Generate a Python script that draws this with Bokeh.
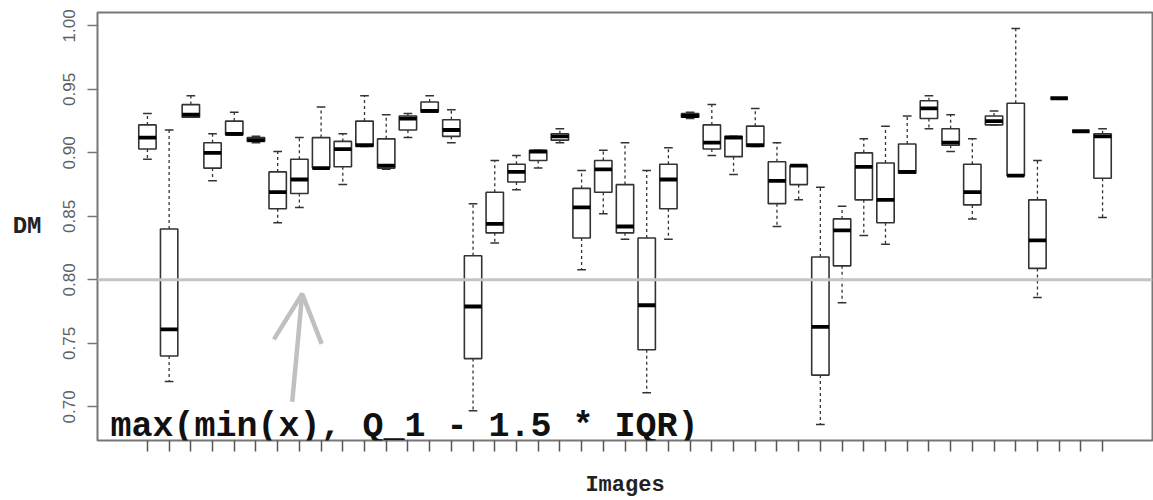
from bokeh.plotting import figure
from bokeh.models import (ColumnDataSource, Range1d, FixedTicker, Span, Arrow,
                          OpenHead, Label, NumeralTickFormatter)
from bokeh.transform import dodge
from bokeh.embed import file_html
from bokeh.resources import INLINE

# ---- data ----
images = list(range(1, 46))
lower_whisker = [0.895, 0.720, 0.928, 0.878, 0.914, 0.908, 0.845, 0.857, 0.888, 0.875,
                 0.905, 0.887, 0.912, 0.932, 0.908, 0.697, 0.829, 0.871, 0.888, 0.908,
                 0.808, 0.852, 0.832, 0.711, 0.832, 0.927, 0.898, 0.883, 0.905, 0.842,
                 0.863, 0.686, 0.782, 0.835, 0.828, 0.884, 0.919, 0.901, 0.848, 0.922,
                 0.882, 0.786, 0.943, 0.917, 0.849]
q1 = [0.903, 0.740, 0.928, 0.888, 0.914, 0.909, 0.856, 0.868, 0.888, 0.889,
      0.905, 0.888, 0.918, 0.932, 0.913, 0.738, 0.837, 0.877, 0.894, 0.910,
      0.833, 0.869, 0.837, 0.745, 0.856, 0.928, 0.903, 0.897, 0.905, 0.860,
      0.875, 0.725, 0.811, 0.863, 0.845, 0.884, 0.927, 0.906, 0.859, 0.922,
      0.882, 0.809, 0.943, 0.917, 0.880]
median = [0.912, 0.761, 0.930, 0.900, 0.915, 0.910, 0.869, 0.879, 0.888, 0.903,
          0.906, 0.890, 0.927, 0.933, 0.918, 0.779, 0.844, 0.885, 0.901, 0.913,
          0.857, 0.887, 0.842, 0.780, 0.879, 0.929, 0.908, 0.912, 0.906, 0.878,
          0.890, 0.763, 0.839, 0.889, 0.863, 0.885, 0.935, 0.908, 0.869, 0.925,
          0.882, 0.831, 0.943, 0.917, 0.913]
q3 = [0.922, 0.840, 0.938, 0.908, 0.925, 0.912, 0.885, 0.895, 0.912, 0.909,
      0.925, 0.911, 0.929, 0.940, 0.926, 0.819, 0.869, 0.891, 0.902, 0.915,
      0.872, 0.894, 0.875, 0.833, 0.891, 0.931, 0.922, 0.913, 0.921, 0.893,
      0.890, 0.818, 0.848, 0.900, 0.892, 0.907, 0.941, 0.919, 0.891, 0.929,
      0.939, 0.863, 0.943, 0.917, 0.915]
upper_whisker = [0.931, 0.918, 0.945, 0.915, 0.932, 0.913, 0.901, 0.912, 0.936, 0.915,
                 0.945, 0.930, 0.931, 0.945, 0.934, 0.860, 0.894, 0.898, 0.902, 0.919,
                 0.886, 0.902, 0.908, 0.886, 0.904, 0.932, 0.938, 0.913, 0.935, 0.908,
                 0.890, 0.873, 0.858, 0.911, 0.921, 0.929, 0.945, 0.930, 0.911, 0.933,
                 0.998, 0.894, 0.943, 0.917, 0.919]

y_ticks = [0.70, 0.75, 0.80, 0.85, 0.90, 0.95, 1.00]
y_tick_labels = ["0.70", "0.75", "0.80", "0.85", "0.90", "0.95", "1.00"]
x_tick_labels = ["" for _ in images]
threshold = 0.80
note_text = "max(min(x), Q_1 - 1.5 * IQR)"

src = ColumnDataSource(dict(x=images, lw=lower_whisker, q1=q1, med=median,
                            q3=q3, uw=upper_whisker))

p = figure(width=1153, height=500, output_backend="svg", toolbar_location=None,
           x_range=Range1d(-1.3, 47.3), y_range=Range1d(0.6735, 1.0105),
           min_border_left=97, min_border_right=1, min_border_top=12,
           min_border_bottom=58)
p.background_fill_color = "white"
p.border_fill_color = "white"
p.xgrid.visible = False
p.ygrid.visible = False
p.outline_line_color = "#777777"
p.outline_line_width = 2

# axes
p.xaxis.ticker = FixedTicker(ticks=images)
p.xaxis.major_label_overrides = dict(zip(images, x_tick_labels))
p.xaxis.major_label_text_font_size = "0px"
p.xaxis.major_label_standoff = 0
p.xaxis.major_tick_in = 0
p.xaxis.major_tick_out = 11
p.xaxis.minor_tick_line_color = None
p.xaxis.axis_line_color = None
p.xaxis.major_tick_line_color = "#555555"
p.xaxis.major_tick_line_width = 1.5
p.xaxis.axis_label = "Images"
p.xaxis.axis_label_text_font = "Liberation Mono"
p.xaxis.axis_label_text_font_style = "bold"
p.xaxis.axis_label_text_font_size = "22px"
p.xaxis.axis_label_text_color = "#222222"
p.xaxis.axis_label_standoff = 21

p.yaxis.ticker = FixedTicker(ticks=y_ticks)
p.yaxis.formatter = NumeralTickFormatter(format="0.00")
p.yaxis.major_label_overrides = dict(zip(y_ticks, y_tick_labels))
p.yaxis.major_label_orientation = "parallel"
p.yaxis.major_label_text_font = "Liberation Sans"
p.yaxis.major_label_text_font_size = "17px"
p.yaxis.major_label_text_color = "#606060"
p.yaxis.major_label_standoff = 12
p.yaxis.major_tick_in = 0
p.yaxis.major_tick_out = 10
p.yaxis.major_tick_line_color = "#777777"
p.yaxis.major_tick_line_width = 1.5
p.yaxis.minor_tick_line_color = None
p.yaxis.axis_line_color = None
p.yaxis.axis_label = "DM"
p.yaxis.axis_label_orientation = "horizontal"
p.yaxis.axis_label_text_font = "Liberation Mono"
p.yaxis.axis_label_text_font_style = "bold"
p.yaxis.axis_label_text_font_size = "24px"
p.yaxis.axis_label_text_color = "#222222"
p.yaxis.axis_label_standoff = 19

# whiskers
p.segment(x0="x", y0="q3", x1="x", y1="uw", source=src, line_color="#333333",
          line_width=1.3, line_dash="3 3")
p.segment(x0="x", y0="q1", x1="x", y1="lw", source=src, line_color="#333333",
          line_width=1.3, line_dash="3 3")
# staples
p.segment(x0=dodge("x", -0.2), y0="uw", x1=dodge("x", 0.2), y1="uw", source=src,
          line_color="#333333", line_width=1.5)
p.segment(x0=dodge("x", -0.2), y0="lw", x1=dodge("x", 0.2), y1="lw", source=src,
          line_color="#333333", line_width=1.5)
# boxes
p.vbar(x="x", width=0.8, bottom="q1", top="q3", source=src, fill_color="white",
       line_color="#333333", line_width=1.6)
# medians
p.segment(x0=dodge("x", -0.4), y0="med", x1=dodge("x", 0.4), y1="med", source=src,
          line_color="black", line_width=3.8)

# threshold line
p.add_layout(Span(location=threshold, dimension="width", line_color="#c4c4c4",
                  line_width=3))

# arrow + annotation
arrow_tail = (7.67, 0.7040)
arrow_head = (8.13, 0.789)
p.add_layout(Arrow(x_start=arrow_tail[0], y_start=arrow_tail[1],
                   x_end=arrow_head[0], y_end=arrow_head[1],
                   line_color="#c0c0c0", line_width=4.5,
                   end=OpenHead(size=48, line_color="#c0c0c0", line_width=4.5)))
p.add_layout(Label(x=-0.7, y=0.6838, text=note_text, text_font="Liberation Mono",
                   text_font_style="bold", text_font_size="35px",
                   text_color="#111111", text_baseline="alphabetic"))

open("out.html", "w").write(file_html(p, INLINE))
